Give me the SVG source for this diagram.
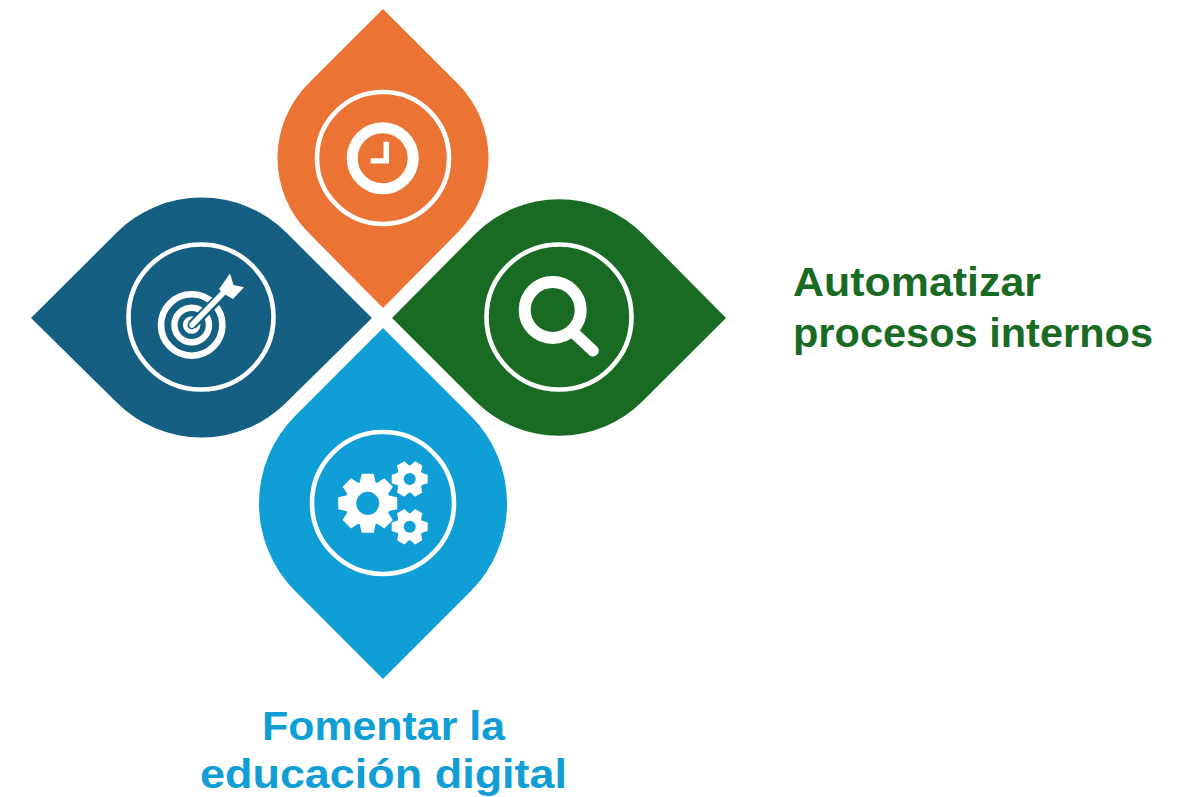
<svg xmlns="http://www.w3.org/2000/svg" width="1186" height="797" viewBox="0 0 1186 797">
<style>
.ring{fill:none;stroke:#fff;stroke-width:4.6}
.w{fill:#fff}
.wl{fill:none;stroke:#fff}
text{font-family:"Liberation Sans",Arial,sans-serif;font-weight:700;font-size:41px}
</style>
<defs>
<g id="t8"><path d="M-6 -29.500H6L8 -20H-8Z" fill="#fff"/></g>
<g id="t6"><path d="M-4.200 -18H4.200L6.500 -11H-6.500Z" fill="#fff"/></g>
<g id="gs">
<circle r="9.800" fill="none" stroke="#fff" stroke-width="7.500"/>
<use href="#t6" transform="rotate(30)"/><use href="#t6" transform="rotate(90)"/><use href="#t6" transform="rotate(150)"/><use href="#t6" transform="rotate(210)"/><use href="#t6" transform="rotate(270)"/><use href="#t6" transform="rotate(330)"/>
</g>
</defs>
<rect width="1186" height="797" fill="#fff"/>
<g id="connectors"></g>
<g id="node-orange">
<path d="M383 9L308.400 83.400A105.500 105.500 0 0 0 308.400 232.600L383 308L457.600 232.600A105.500 105.500 0 0 0 457.600 83.400Z" fill="#EB7333"/>
<circle class="ring" cx="383" cy="158" r="66"/>
<circle class="wl" cx="382.700" cy="158.300" r="30.500" stroke-width="11"/>
<path class="w" d="M383.500 141.700H389V163.600H370.700V158.200H383.500Z"/>
</g>
<g id="node-darkblue">
<path d="M31 318L116.500 232.800A120 120 0 0 1 286.500 232.800L372 318L286.500 402.200A120 120 0 0 1 116.500 402.200Z" fill="#156082"/>
<circle class="ring" cx="201" cy="317" r="72.500"/>
<circle class="wl" cx="191.700" cy="325" r="30.700" stroke-width="6.600"/>
<circle class="wl" cx="191.700" cy="325" r="17.300" stroke-width="6.400"/>
<circle class="wl" cx="191.700" cy="325" r="6.500" stroke-width="4.500"/>
<path d="M192 325L222 295" stroke="#156082" stroke-width="10" fill="none"/>
<path d="M192 325L224 292" stroke="#fff" stroke-width="5.500" fill="none" stroke-linecap="round"/>
<path class="w" d="M230 273.500L233.500 285L244 287.300L233 299L226 295L219 289.300Z"/>
</g>
<g id="node-green">
<path d="M392 318L475.200 234A118.500 118.500 0 0 1 642.800 234L726 318L642.800 401A118.500 118.500 0 0 1 475.200 401Z" fill="#196B24"/>
<circle class="ring" cx="559" cy="317" r="72.500"/>
<circle class="wl" cx="552.700" cy="310" r="28" stroke-width="12"/>
<path class="wl" d="M574 333L593 350.700" stroke-width="11.500" stroke-linecap="round"/>
</g>
<g id="node-lightblue">
<path d="M383 328L295.300 415.800A124 124 0 0 0 295.300 591.200L383 679L470.700 591.200A124 124 0 0 0 470.700 415.800Z" fill="#0F9ED5"/>
<circle class="ring" cx="383" cy="503" r="71"/>
<g transform="translate(367.700 503.300)">
<circle r="17" fill="none" stroke="#fff" stroke-width="11"/>
<use href="#t8"/><use href="#t8" transform="rotate(45)"/><use href="#t8" transform="rotate(90)"/><use href="#t8" transform="rotate(135)"/><use href="#t8" transform="rotate(180)"/><use href="#t8" transform="rotate(225)"/><use href="#t8" transform="rotate(270)"/><use href="#t8" transform="rotate(315)"/>
</g>
<use href="#gs" x="409.700" y="479"/>
<use href="#gs" x="409.700" y="526.700"/>
</g>
<g id="label-green" fill="#196B24">
<text x="793" y="296" textLength="248" lengthAdjust="spacingAndGlyphs">Automatizar</text>
<text x="793" y="347" textLength="360" lengthAdjust="spacingAndGlyphs">procesos internos</text>
</g>
<g id="label-lightblue" fill="#0F9ED5">
<text x="262" y="740" textLength="243" lengthAdjust="spacingAndGlyphs">Fomentar la</text>
<text x="200" y="788" textLength="367" lengthAdjust="spacingAndGlyphs">educación digital</text>
</g>
</svg>
